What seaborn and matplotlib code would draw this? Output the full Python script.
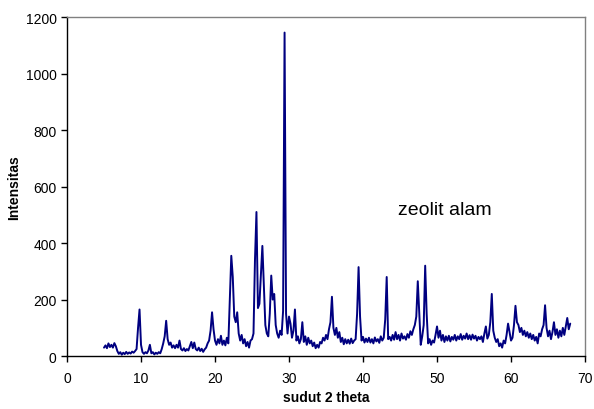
import numpy as np
import pandas as pd
import seaborn as sns
import matplotlib
matplotlib.use("Agg")
import matplotlib.pyplot as plt

# 2-theta scan: start angle and step (degrees)
theta_start = 5.0
theta_step = 0.2

# Measured intensity (counts) at each step from 5.0 to 68.0 deg
intensity = [
    30, 38, 28, 45, 32, 40, 30, 46, 35, 18,          # 5.0 - 6.8
    8, 14, 5, 12, 7, 15, 8, 13, 9, 16,               # 7.0 - 8.8
    12, 18, 25, 100, 165, 40, 14, 8, 14, 10,         # 9.0 - 10.8
    20, 40, 10, 14, 6, 12, 8, 14, 10, 25,            # 11.0 - 12.8
    45, 70, 125, 60, 40, 48, 30, 38, 28, 40,         # 13.0 - 14.8
    30, 55, 25, 20, 28, 18, 25, 20, 35, 50,          # 15.0 - 16.8
    28, 48, 25, 20, 30, 18, 26, 15, 24, 30,          # 17.0 - 18.8
    45, 55, 90, 155, 95, 55, 40, 60, 45, 72,         # 19.0 - 20.8
    40, 55, 38, 65, 45, 200, 355, 280, 140, 120,     # 21.0 - 22.8
    155, 80, 55, 75, 45, 60, 35, 50, 30, 55,         # 23.0 - 24.8
    60, 80, 340, 510, 170, 185, 290, 390, 250, 110,  # 25.0 - 26.8
    80, 70, 150, 285, 200, 220, 110, 80, 65, 90,     # 27.0 - 28.8
    75, 160, 1145, 150, 80, 140, 115, 65, 90, 165,   # 29.0 - 30.8
    55, 70, 45, 60, 120, 50, 70, 40, 65, 45,         # 31.0 - 32.8
    55, 35, 48, 28, 40, 30, 50, 45, 65, 55,          # 33.0 - 34.8
    75, 60, 95, 120, 210, 100, 75, 100, 65, 85,      # 35.0 - 36.8
    50, 65, 42, 60, 45, 58, 44, 62, 46, 55,          # 37.0 - 38.8
    60, 150, 315, 140, 55, 68, 48, 62, 50, 65,       # 39.0 - 40.8
    48, 60, 45, 66, 52, 60, 47, 70, 55, 65,          # 41.0 - 42.8
    130, 280, 60, 68, 55, 75, 58, 85, 60, 75,        # 43.0 - 44.8
    55, 80, 62, 70, 58, 78, 65, 88, 75, 95,          # 45.0 - 46.8
    110, 140, 265, 150, 40, 70, 110, 320, 150, 45,   # 47.0 - 48.8
    60, 40, 55, 48, 75, 105, 65, 90, 55, 75,         # 49.0 - 50.8
    50, 70, 55, 72, 52, 68, 58, 75, 55, 70,          # 51.0 - 52.8
    60, 78, 58, 72, 62, 80, 60, 74, 58, 76,          # 53.0 - 54.8
    62, 72, 55, 68, 60, 70, 50, 80, 105, 62,         # 55.0 - 56.8
    75, 120, 220, 90, 65, 50, 60, 35, 45, 30,        # 57.0 - 58.8
    55, 45, 75, 115, 85, 55, 65, 110, 178, 120,      # 59.0 - 60.8
    110, 85, 100, 75, 90, 70, 85, 65, 80, 60,        # 61.0 - 62.8
    75, 55, 68, 45, 80, 70, 95, 110, 180, 100,       # 63.0 - 64.8
    70, 90, 60, 85, 120, 75, 95, 65, 90, 70,         # 65.0 - 66.8
    100, 75, 105, 135, 95, 115,                      # 67.0 - 68.0
]

two_theta = theta_start + theta_step * np.arange(len(intensity))
df = pd.DataFrame({"two_theta": two_theta, "intensity": intensity})

x_ticks = [0, 10, 20, 30, 40, 50, 60, 70]
y_ticks = [0, 200, 400, 600, 800, 1000, 1200]

sns.set_theme(style="ticks")
plt.rcParams["font.family"] = ["Liberation Sans", "DejaVu Sans"]
plt.rcParams["text.color"] = "black"
plt.rcParams["axes.labelcolor"] = "black"

fig = plt.figure(figsize=(5.94, 4.10), dpi=100)
ax = fig.add_axes([0.1128, 0.129, 0.8721, 0.827])

sns.lineplot(data=df, x="two_theta", y="intensity", ax=ax,
             color="#000080", linewidth=1.4, estimator=None)

ax.set_xlim(0, 70)
ax.set_ylim(0, 1200)
ax.set_xticks(x_ticks)
ax.set_yticks(y_ticks)
ax.tick_params(axis="both", labelsize=10, length=4, width=1,
               color="black", labelcolor="black", direction="out")
ax.tick_params(axis="x", pad=7)

for side in ("left", "bottom"):
    ax.spines[side].set_color("black")
    ax.spines[side].set_linewidth(1.0)
for side in ("top", "right"):
    ax.spines[side].set_visible(True)
    ax.spines[side].set_color("#808080")
    ax.spines[side].set_linewidth(1.0)

ax.set_xlabel("sudut 2 theta", fontsize=10, fontweight="bold", labelpad=3)
ax.set_ylabel("Intensitas", fontsize=10, fontweight="bold", labelpad=3)

ax.text(51.0, 520, "zeolit alam", fontsize=14, ha="center", va="center")

fig.savefig("out.png", dpi=100)
